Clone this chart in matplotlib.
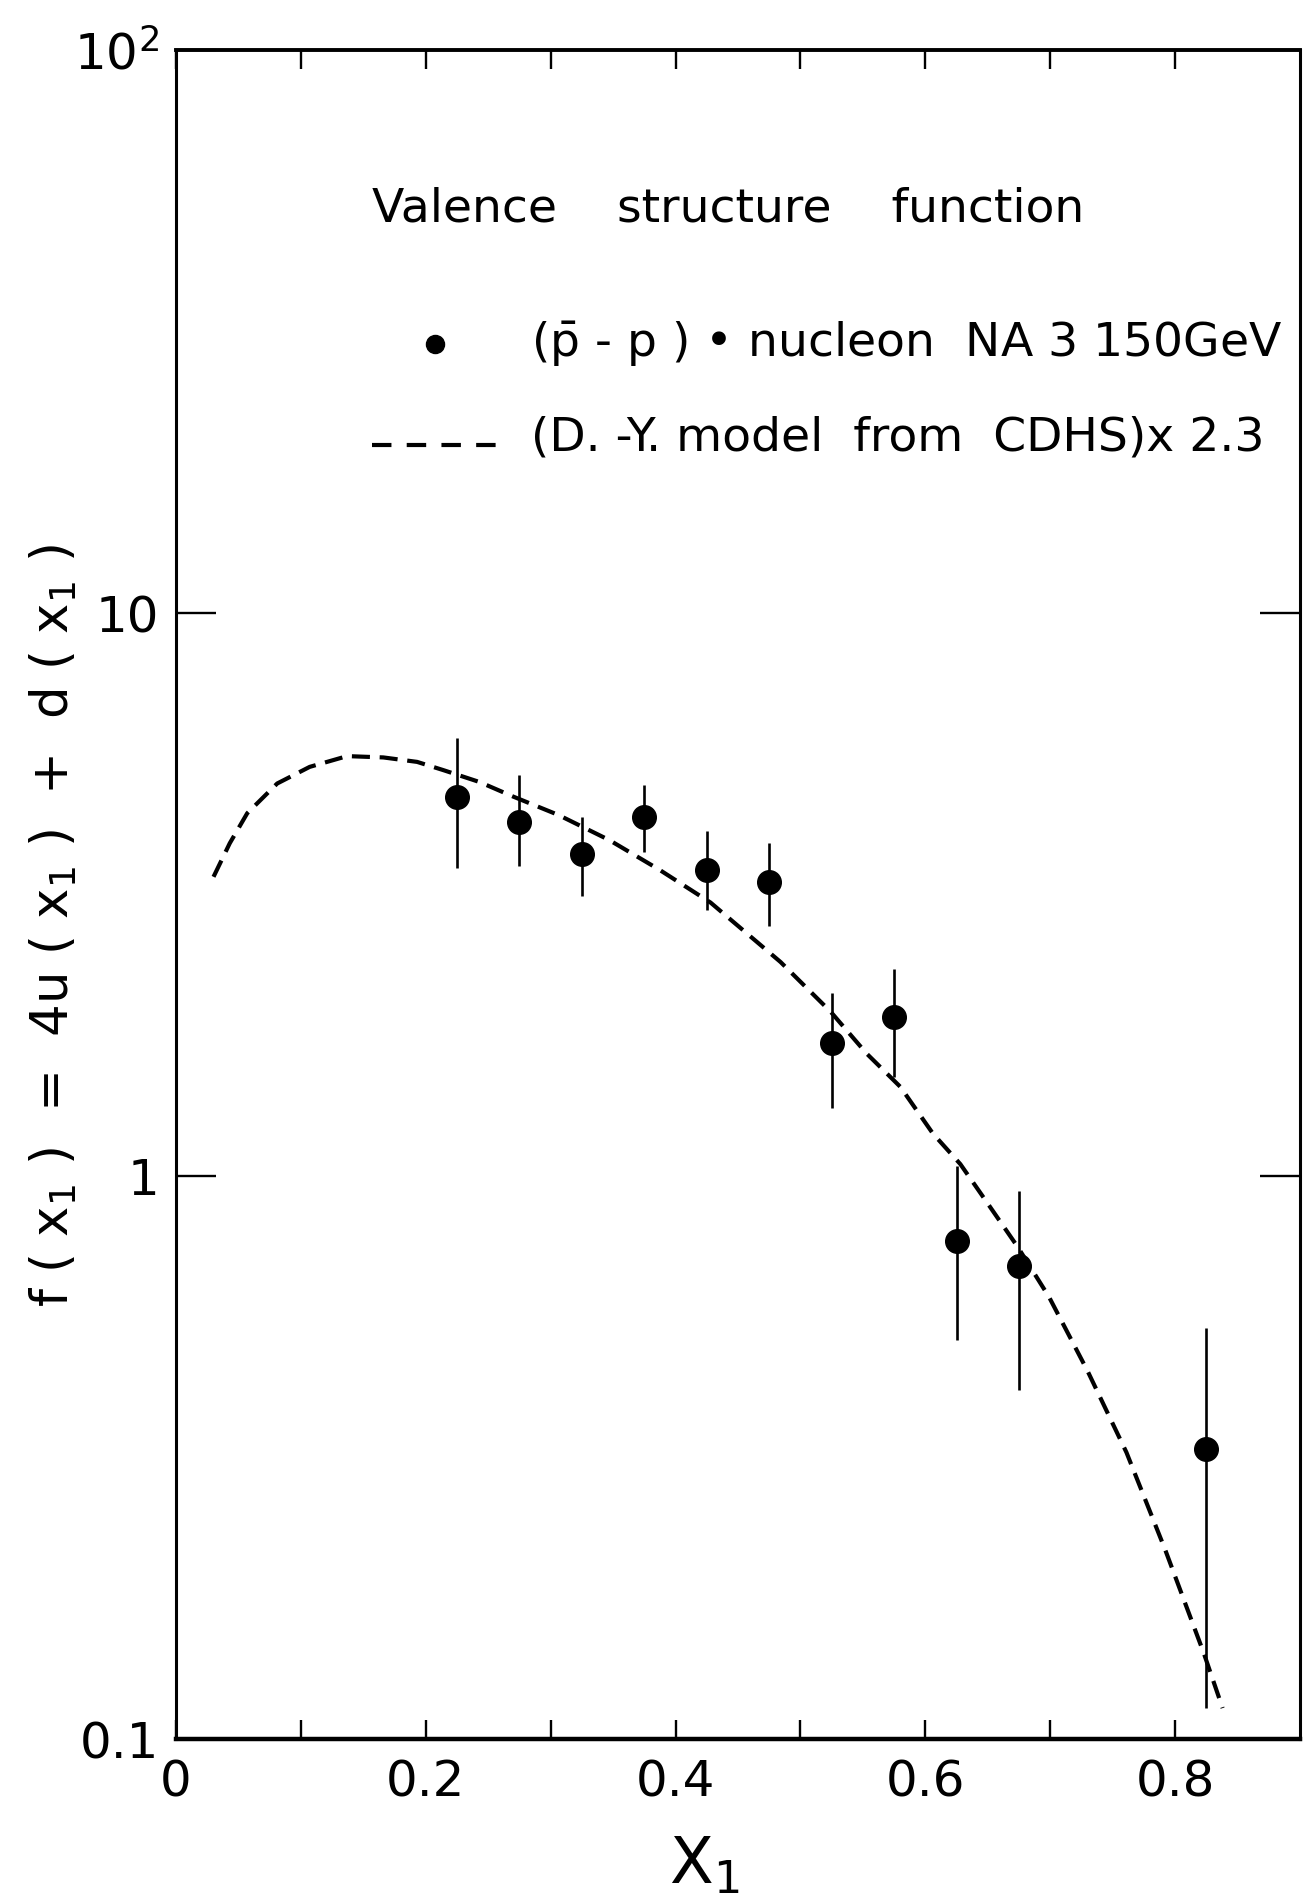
import matplotlib
matplotlib.use('Agg')
import matplotlib.pyplot as plt
import numpy as np
from matplotlib.lines import Line2D

plt.rcParams['font.family'] = ['DejaVu Sans']
plt.rcParams['mathtext.fontset'] = 'dejavusans'
plt.rcParams['lines.scale_dashes'] = False

# NA3 points, (pbar - p) nucleon
x_pts = [0.225, 0.275, 0.325, 0.375, 0.425, 0.475, 0.525, 0.575, 0.625, 0.675, 0.825]
y_pts = [4.72, 4.26, 3.73, 4.34, 3.50, 3.33, 1.72, 1.92, 0.767, 0.693, 0.328]
y_hi = [5.99, 5.16, 4.35, 4.95, 4.10, 3.91, 2.11, 2.33, 1.04, 0.942, 0.538]
y_lo = [3.52, 3.56, 3.14, 3.77, 2.97, 2.78, 1.32, 1.50, 0.511, 0.417, 0.1135]

# D.-Y. model from CDHS x 2.3 (dashed curve)
x_dy = [0.030, 0.043, 0.057, 0.081, 0.107, 0.137, 0.166, 0.193, 0.214, 0.243,
        0.270, 0.306, 0.347, 0.387, 0.428, 0.484, 0.524, 0.553, 0.580, 0.606,
        0.628, 0.646, 0.674, 0.699, 0.730, 0.761, 0.792, 0.823, 0.838]
y_dy = [3.40, 3.90, 4.41, 4.98, 5.33, 5.57, 5.54, 5.44, 5.26, 5.01,
        4.72, 4.38, 3.95, 3.50, 3.06, 2.40, 1.96, 1.65, 1.44, 1.19,
        1.05, 0.92, 0.748, 0.61, 0.45, 0.323, 0.217, 0.142, 0.1135]

x_ticks = [0, 0.1, 0.2, 0.3, 0.4, 0.5, 0.6, 0.7, 0.8]
x_labels = ['0', '', '0.2', '', '0.4', '', '0.6', '', '0.8']
y_ticks = [0.1, 1, 10, 100]
y_labels = ['0.1', '1', '10', '$10^2$']

fig = plt.figure(figsize=(13.08, 18.94), dpi=100)
ax = fig.add_axes([0.1346, 0.0818, 0.8593, 0.8918])

ax.plot(x_dy, y_dy, 'k', lw=3.0, dashes=(13, 7))
err_lo = np.array(y_pts) - np.array(y_lo)
err_hi = np.array(y_hi) - np.array(y_pts)
ax.errorbar(x_pts, y_pts, yerr=[err_lo, err_hi], fmt='o', color='k',
            ms=17, elinewidth=1.9, capsize=0)

ax.set_yscale('log')
ax.set_xlim(0, 0.9)
ax.set_ylim(0.1, 100)

ax.set_xticks(x_ticks)
ax.set_xticklabels(x_labels)
ax.set_yticks(y_ticks)
ax.set_yticklabels(y_labels)
ax.yaxis.set_minor_locator(matplotlib.ticker.NullLocator())

ax.tick_params(axis='x', which='major', direction='in', length=14, width=1.7,
               top=True, labelsize=36, pad=14)
ax.tick_params(axis='y', which='major', direction='in', length=29, width=1.7,
               right=True, labelsize=36, pad=12)
ax.spines['bottom'].set_linewidth(3.2)
ax.spines['top'].set_linewidth(2.8)
ax.spines['left'].set_linewidth(2.2)
ax.spines['right'].set_linewidth(2.2)

# axis labels
fig.text(0.0413, 0.5116, 'f ( x$_1$ )  =  4u ( x$_1$ )  +  d ( x$_1$ )',
         rotation=90, fontsize=37, ha='center', va='center')
ax.text(0.47, -0.075, 'X$_1$', transform=ax.transAxes, fontsize=46,
        ha='center', va='center')

# legend block written by hand like the original
ax.text(0.174, 0.906, 'Valence    structure    function', transform=ax.transAxes,
        fontsize=34, ha='left', va='center')
ax.plot([0.230], [0.826], 'o', color='k', ms=13, transform=ax.transAxes)
ax.text(0.316, 0.826, r'($\bar{\mathrm{p}}$ - p ) • nucleon  NA 3 150GeV',
        transform=ax.transAxes, fontsize=34, ha='left', va='center')
ax.add_line(Line2D([0.174, 0.289], [0.766, 0.766], color='k', lw=3.0,
                   dashes=(14, 11), transform=ax.transAxes))
ax.text(0.316, 0.770, '(D. -Y. model  from  CDHS)x 2.3',
        transform=ax.transAxes, fontsize=34, ha='left', va='center')

fig.savefig('out.png', dpi=100)
